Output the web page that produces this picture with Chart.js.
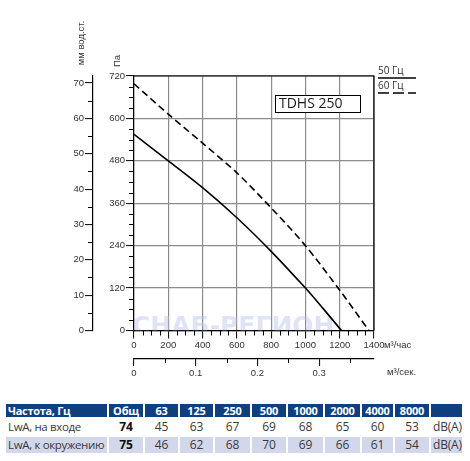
<!DOCTYPE html>
<html>
<head>
<meta charset="utf-8">
<script src="https://cdn.jsdelivr.net/npm/chart.js@4.4.1/dist/chart.umd.min.js"></script>
<style>
  body { margin: 0; background: #fff; width: 470px; height: 461px; overflow: hidden; position: relative; }
  #wrap { position: absolute; left: 0; top: 0; width: 470px; height: 392px; }
  #tbl { position: absolute; left: 4px; top: 402px; width: 460px; border-collapse: separate; border-spacing: 2px; table-layout: fixed;
         font-family: "Open Sans", sans-serif; }
  #tbl td { box-sizing: border-box; padding: 0; text-align: center; color: #3a3a3a; font-size: 12px;
            height: 16px; line-height: 16px; white-space: nowrap; overflow: hidden; letter-spacing: -0.2px; }
  #tbl tr.head td { background: #0f3f7f; color: #fff; font-weight: bold; font-size: 11px; height: 13px; line-height: 13px; }
  #tbl tr.alt td { background: #d3d7eb; }
  #tbl td.name { text-align: left; padding-left: 2px; font-size: 11.5px; letter-spacing: -0.35px; }
  #tbl tr.head td.name { font-size: 11px; letter-spacing: -0.3px; }
  #tbl td.unit { text-align: left; padding-left: 2px; }
  #tbl td.tot { font-weight: bold; color: #111; }
</style>
</head>
<body>
<div id="wrap"><canvas id="fanChart"></canvas></div>
<table id="tbl"></table>
<script>
// характеристика вентилятора TDHS 250
const flow50 = [0, 200, 400, 600, 800, 1000, 1100, 1210];
const pa50   = [555, 480, 404, 319, 224, 120, 64, 0];
const flow60 = [0, 200, 400, 600, 800, 1000, 1200, 1370];
const pa60   = [698, 612, 530, 446, 347, 240, 114, 0];

const paTicks   = [0, 120, 240, 360, 480, 600, 720];
const mmTicks   = [0, 10, 20, 30, 40, 50, 60, 70];
const flowTicks = [0, 200, 400, 600, 800, 1000, 1200, 1400];
const secTicks  = [0, 0.1, 0.2, 0.3];

// шумовые характеристики
const bands    = ['Общ', '63', '125', '250', '500', '1000', '2000', '4000', '8000'];
const lwaIn    = [74, 45, 63, 67, 69, 68, 65, 60, 53];
const lwaOut   = [75, 46, 62, 68, 70, 69, 66, 61, 54];
const rowNames = ['LwA, на входе', 'LwA, к окружению'];

const tickFont = { family: '"Liberation Sans", Arial, sans-serif', size: 9.5 };
const tickColor = '#333';

const minorTicks = {
  id: 'minorTicks',
  afterDraw(chart) {
    const ctx = chart.ctx;
    ctx.save();
    ctx.strokeStyle = '#000';
    ctx.lineWidth = 1;
    [['y', 30, 5], ['ymm', 5, 5], ['x', 50, 5], ['x2', 0.05, 4]].forEach(([id, step, len]) => {
      const s = chart.scales[id];
      const n = Math.floor((s.max - s.min) / step + 1e-6);
      const majors = s.ticks.map(t => t.value);
      for (let i = 0; i <= n; i++) {
        const v = s.min + i * step;
        if (majors.some(m => Math.abs(m - v) < step / 10)) continue;
        const p = Math.round(s.getPixelForValue(v)) + 0.5;
        ctx.beginPath();
        if (s.isHorizontal()) { ctx.moveTo(p, s.top); ctx.lineTo(p, s.top + len); }
        else { ctx.moveTo(s.right, p); ctx.lineTo(s.right - len, p); }
        ctx.stroke();
      }
    });
    ctx.restore();
  }
};

const extras = {
  id: 'extras',
  beforeDatasetsDraw(chart) {
    const ctx = chart.ctx, ca = chart.chartArea;
    ctx.save();
    ctx.beginPath();
    ctx.rect(ca.left, ca.top, ca.right - ca.left, ca.bottom - ca.top);
    ctx.clip();
    ctx.font = 'bold 25px "DejaVu Sans"';
    ctx.fillStyle = 'rgba(185, 192, 235, 0.45)';
    ctx.textBaseline = 'alphabetic';
    ctx.fillText('СНАБ-РЕГИОН', ca.left - 2, ca.bottom + 3);
    ctx.restore();
  },
  afterDraw(chart) {
    const ctx = chart.ctx, ca = chart.chartArea;
    ctx.save();
    // рамка сверху и справа
    ctx.strokeStyle = '#000';
    ctx.lineWidth = 1.2;
    ctx.beginPath();
    ctx.moveTo(ca.left, ca.top);
    ctx.lineTo(ca.right, ca.top);
    ctx.lineTo(ca.right, ca.bottom);
    ctx.stroke();

    ctx.fillStyle = '#333';
    ctx.font = '9.5px "Liberation Sans", Arial, sans-serif';
    ctx.textBaseline = 'middle';
    ctx.textAlign = 'center';
    ctx.save(); ctx.translate(117, 61); ctx.rotate(-Math.PI / 2); ctx.fillText('Па', 0, 0); ctx.restore();
    ctx.save(); ctx.translate(81, 43); ctx.rotate(-Math.PI / 2); ctx.fillText('мм вод.ст.', 0, 0); ctx.restore();
    ctx.textAlign = 'left';
    ctx.fillText('м³/час', 384, 345);
    ctx.fillText('м³/сек.', 387, 372);

    // легенда
    ctx.font = '10px "Open Sans", sans-serif';
    ctx.fillText('50 Гц', 378, 71);
    ctx.fillText('60 Гц', 378, 86);
    ctx.lineWidth = 1.5;
    ctx.beginPath(); ctx.moveTo(378, 78); ctx.lineTo(416, 78); ctx.stroke();
    ctx.setLineDash([11, 4]);
    ctx.beginPath(); ctx.moveTo(378, 93); ctx.lineTo(416, 93); ctx.stroke();
    ctx.setLineDash([]);

    // модель
    ctx.lineWidth = 1;
    ctx.fillStyle = '#fff';
    ctx.fillRect(275, 95, 85, 18);
    ctx.strokeRect(275.5, 95.5, 85, 17);
    ctx.fillStyle = '#1a1a1a';
    ctx.font = '14px "Open Sans", sans-serif';
    ctx.fillText('TDHS 250', 279, 104.5);
    ctx.restore();
  }
};

const gridStyle = { color: '#8c8c8c', lineWidth: 1.2, tickColor: '#000', tickWidth: 1, tickLength: 8 };
const axisBorder = { color: '#000', width: 1.2 };
const fixTicks = arr => s => { s.ticks = arr.map(v => ({ value: v })); };
const plain = v => String(v);

new Chart(document.getElementById('fanChart'), {
  type: 'line',
  data: {
    datasets: [
      {
        label: '50 Гц',
        data: flow50.map((x, i) => ({ x, y: pa50[i] })),
        borderColor: '#000', borderWidth: 1.6, pointRadius: 0, tension: 0.3,
        xAxisID: 'x', yAxisID: 'y'
      },
      {
        label: '60 Гц',
        data: flow60.map((x, i) => ({ x, y: pa60[i] })),
        borderColor: '#000', borderWidth: 1.6, borderDash: [7, 4], pointRadius: 0, tension: 0.3,
        xAxisID: 'x', yAxisID: 'y'
      }
    ]
  },
  options: {
    responsive: true,
    maintainAspectRatio: false,
    animation: false,
    layout: { padding: { left: 60, right: 96, top: 76, bottom: 11 } },
    plugins: { legend: { display: false }, tooltip: { enabled: false } },
    scales: {
      x: {
        type: 'linear', position: 'bottom', weight: 0, min: 0, max: 1400,
        afterBuildTicks: fixTicks(flowTicks),
        afterFit: s => { s.height = 28.5; },
        grid: gridStyle, border: axisBorder,
        ticks: { font: tickFont, color: tickColor, padding: 1, maxRotation: 0, autoSkip: false, callback: plain }
      },
      x2: {
        type: 'linear', position: 'bottom', weight: 1, min: 0, max: 1400 / 3600,
        afterBuildTicks: fixTicks(secTicks),
        afterFit: s => { s.height = 22; },
        grid: { ...gridStyle, drawOnChartArea: false, tickLength: 7 }, border: axisBorder,
        ticks: { font: tickFont, color: tickColor, padding: 2, maxRotation: 0, autoSkip: false,
                 callback: v => v === 0 ? '0' : v.toFixed(1) }
      },
      y: {
        type: 'linear', position: 'left', weight: 0, min: 0, max: 720,
        afterBuildTicks: fixTicks(paTicks),
        afterFit: s => { s.width = 41; },
        grid: gridStyle, border: axisBorder,
        ticks: { font: tickFont, color: tickColor, padding: 1, callback: plain }
      },
      ymm: {
        type: 'linear', position: 'left', weight: 1, min: 0, max: 72,
        afterBuildTicks: fixTicks(mmTicks),
        afterFit: s => { s.width = 33; },
        grid: { ...gridStyle, drawOnChartArea: false }, border: axisBorder,
        ticks: { font: tickFont, color: tickColor, padding: 1, callback: plain }
      }
    }
  },
  plugins: [extras, minorTicks]
});

// таблица уровней звуковой мощности
const tbl = document.getElementById('tbl');
const widths = [101, 34, 33, 33, 35, 34, 35, 35, 31, 34, 31];
let html = '<tr class="head"><td class="name" style="width:' + widths[0] + 'px">Частота, Гц</td>';
bands.forEach((b, i) => { html += '<td style="width:' + widths[i + 1] + 'px">' + b + '</td>'; });
html += '<td style="width:' + widths[10] + 'px"></td></tr>';
[lwaIn, lwaOut].forEach((row, r) => {
  html += '<tr' + (r === 1 ? ' class="alt"' : '') + '><td class="name">' + rowNames[r] + '</td>';
  row.forEach((v, i) => { html += '<td' + (i === 0 ? ' class="tot"' : '') + '>' + v + '</td>'; });
  html += '<td class="unit">dB(A)</td></tr>';
});
tbl.innerHTML = html;
</script>
</body>
</html>
